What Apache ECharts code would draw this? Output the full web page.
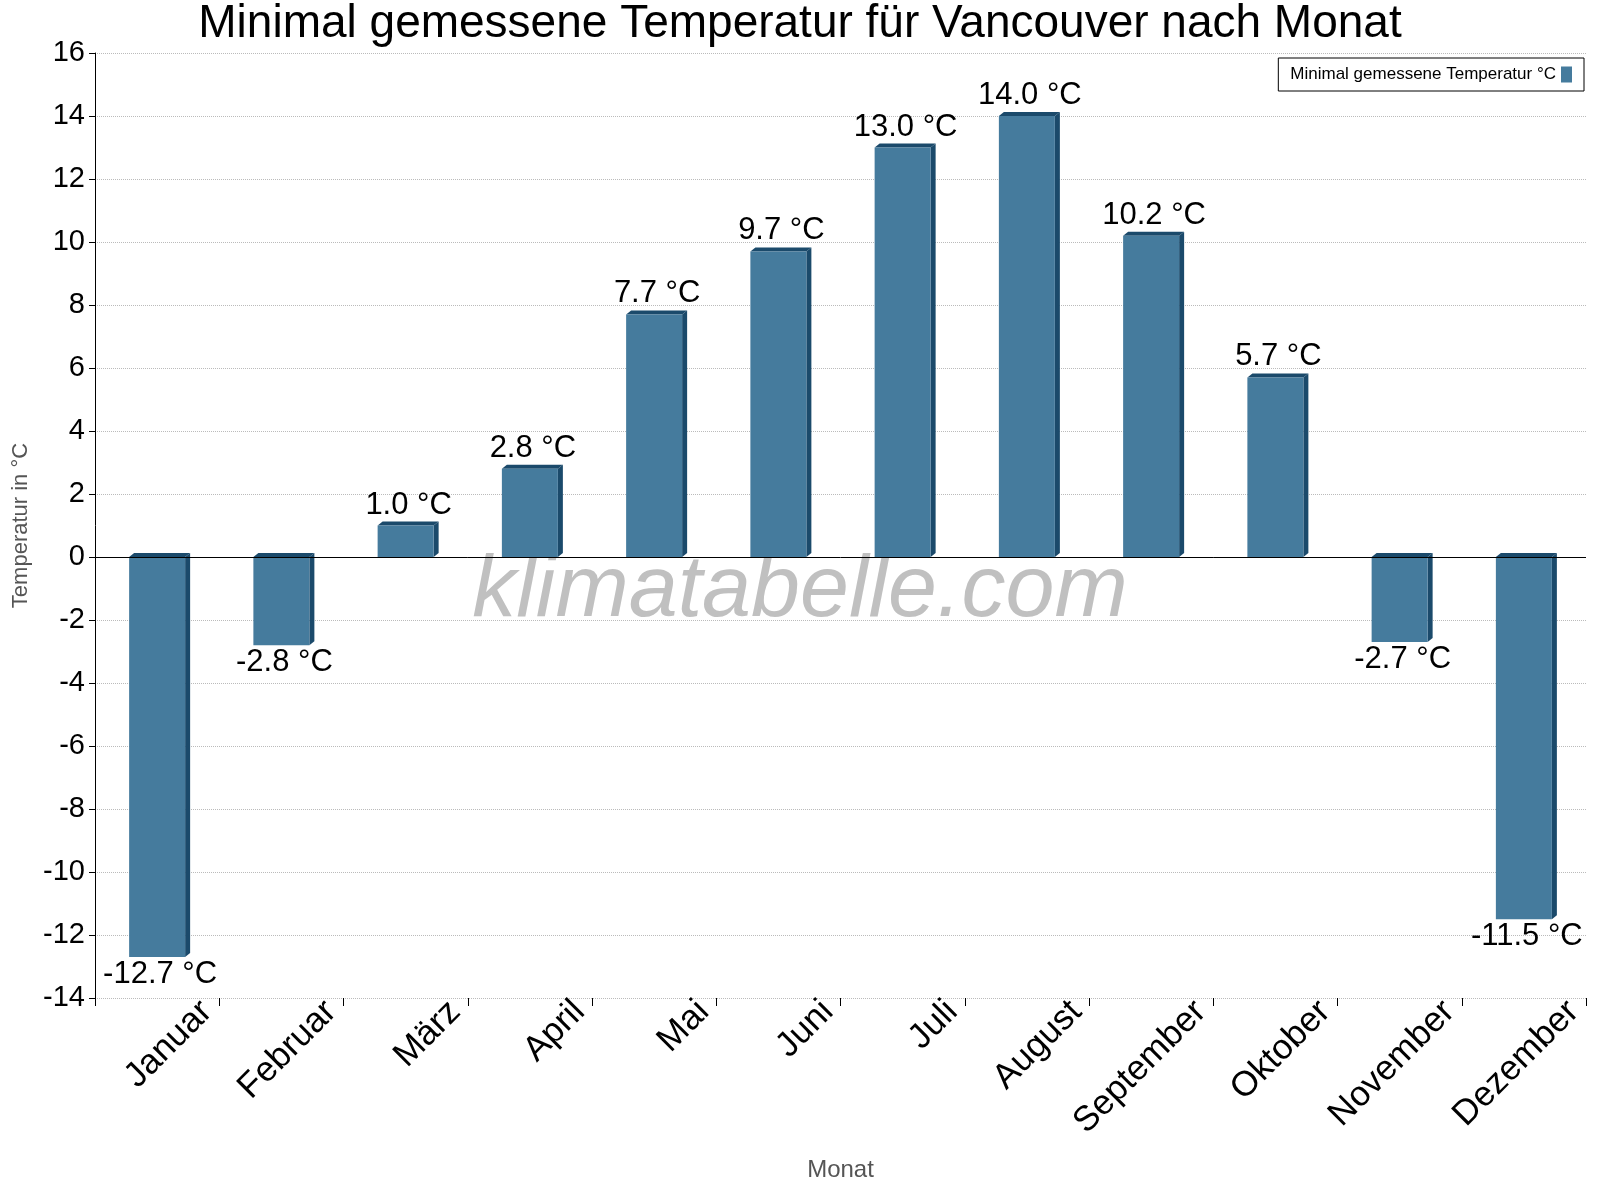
<!DOCTYPE html>
<html><head><meta charset="utf-8">
<script src="https://cdn.jsdelivr.net/npm/echarts@6/dist/echarts.min.js"></script>
<style>html,body{margin:0;padding:0;background:#fff}#c{width:1600px;height:1200px}</style>
</head><body><div id="c"></div>
<script>
const months = ['Januar','Februar','März','April','Mai','Juni','Juli','August','September','Oktober','November','Dezember'];
const minTemps = [-12.7,-2.8,1.0,2.8,7.7,9.7,13.0,14.0,10.2,5.7,-2.7,-11.5];
const yTicks = {min:-14,max:16,interval:2};
const chart = echarts.init(document.getElementById('c'));
chart.setOption({
  animation:false,
  backgroundColor:'#fff',
  title:{text:'Minimal gemessene Temperatur für Vancouver nach Monat',left:'center',top:-4,
    textStyle:{fontFamily:'Liberation Sans',fontSize:46,fontWeight:'normal',color:'#000'}},
  graphic:[{type:'text',left:'center',top:548,style:{text:'klimatabelle.com',font:'italic 88px "Liberation Sans"',fill:'rgba(150,150,150,0.6)'},z:-1}],
  legend:{right:16,top:58,orient:'vertical',itemWidth:11,itemHeight:16,
    borderColor:'#000',borderWidth:1,padding:[8,12],itemGap:4,
    data:[{name:'Minimal gemessene Temperatur °C',icon:'rect'}],
    align:'right',
    textStyle:{fontFamily:'Liberation Sans',fontSize:17,color:'#000'}},
  grid:{left:95,right:14,top:53,bottom:202,containLabel:false},
  xAxis:{type:'category',data:months,name:'Monat',nameLocation:'middle',nameGap:160,
    nameTextStyle:{fontFamily:'Liberation Sans',fontSize:24,color:'#555'},
    axisLine:{show:false,onZero:false},axisTick:{show:true,alignWithLabel:false,length:8,lineStyle:{color:'#000'}},
    axisLabel:{rotate:45,fontFamily:'Liberation Sans',fontSize:35,color:'#000',margin:58,interval:0,padding:[0,-70,0,0]}},
  yAxis:{type:'value',min:yTicks.min,max:yTicks.max,interval:yTicks.interval,
    name:'Temperatur in °C',nameLocation:'middle',nameGap:62,
    nameTextStyle:{fontFamily:'Liberation Sans',fontSize:22,color:'#555'},
    axisLine:{show:true,lineStyle:{color:'#000'}},axisTick:{show:true,length:6,lineStyle:{color:'#000'}},
    axisLabel:{fontFamily:'Liberation Sans',fontSize:29,color:'#000',margin:10},
    splitLine:{show:true,lineStyle:{color:'#bbb',type:'dotted'}}},
  series:[{type:'custom',name:'Minimal gemessene Temperatur °C',
    itemStyle:{color:'#457b9d'},
    data:minTemps.map((v,i)=>[i,v]),
    encode:{x:0,y:1},
    renderItem:function(params,api){
      const i=api.value(0), v=api.value(1);
      const p0=api.coord([i,0]), p1=api.coord([i,v]);
      const w=56, d=5, cx=p0[0];
      const x0=cx-w/2, x1=cx+w/2;
      const yt=Math.min(p0[1],p1[1]), yb=Math.max(p0[1],p1[1]);
      const lbl=v.toFixed(1)+' °C';
      return {type:'group',children:[
        {type:'polygon',shape:{points:[[x1,yt],[x1+d,yt-4],[x1+d,yb-4],[x1,yb]]},style:{fill:'#1b4a6b'}},
        {type:'polygon',shape:{points:[[x0,yt],[x0+d,yt-4],[x1+d,yt-4],[x1,yt]]},style:{fill:'#1b4a6b'}},
        {type:'rect',shape:{x:x0,y:yt,width:w,height:yb-yt},style:{fill:'#457b9d'}},
        {type:'text',style:{text:lbl,x:cx+3,y:v>=0?yt-5:yb+2,align:'center',verticalAlign:v>=0?'bottom':'top',
          font:'31px "Liberation Sans"',fill:'#000'},z2:10}
      ]};
    },
    markLine:{silent:true,symbol:'none',label:{show:false},lineStyle:{color:'#000',type:'solid',width:1},data:[{yAxis:0}]}
  }]
});
</script></body></html>
